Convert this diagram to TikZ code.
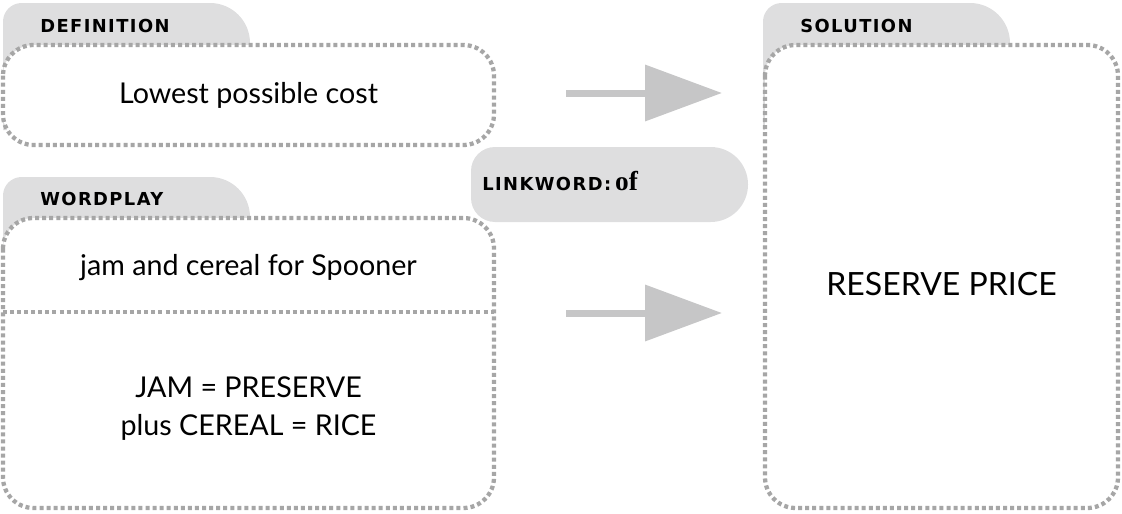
\documentclass[tikz,border=0pt]{standalone}
\usepackage{fontspec}
\setmainfont{Lato}
\newfontfamily\tabfont{DejaVu Sans Bold}[LetterSpace=8]
\newfontfamily\ofont{Liberation Serif Bold}
\usetikzlibrary{arrows.meta}

\definecolor{tabgray}{HTML}{DEDEDF}
\definecolor{dotgray}{HTML}{A6A6A6}
\definecolor{arrowgray}{HTML}{C6C6C7}

\begin{document}
\begin{tikzpicture}[
  x=0.75pt, y=-0.75pt,
  dotbox/.style={fill=white, draw=dotgray, line width=3.2pt, dash pattern=on 3pt off 2.3pt, rounded corners=23pt},
  dotline/.style={draw=dotgray, line width=3.2pt, dash pattern=on 3pt off 2.3pt},
  tablabel/.style={font=\tabfont\fontsize{13.4}{15}\selectfont, anchor=base west, inner sep=0pt},
  clue/.style={font=\fontsize{21.5}{28.5}\selectfont, align=center, inner sep=0pt, anchor=base},
  bigarrow/.style={draw=arrowgray, line width=5.25pt, -{Triangle[length=57.75pt, width=41.25pt]}}
]

  % page size, margins included
  \useasboundingbox (0,0) rectangle (1122,514);

  % Tabs behind the boxes
  \def\tab#1#2{%
    \fill[tabgray] (#1,#2+127) [rounded corners=14pt] -- (#1,#2)
      [rounded corners=30pt] -- (#1+247,#2) -- (#1+247,#2+127) [sharp corners] -- cycle;}
  \tab{3}{3}      % definition
  \tab{3}{177}    % wordplay
  \tab{763}{3}    % solution

  % Dotted boxes
  \path[dotbox] (3,45) rectangle (494,145);
  \path[dotbox] (3,218) rectangle (494,508);
  \path[dotbox] (765,45) rectangle (1118,508);

  % Split of the wordplay box
  \coordinate (wpsplitL) at (3,312);
  \coordinate (wpsplitR) at (494,312);
  \draw[dotline] (wpsplitL) -- (wpsplitR);

  % Tab labels
  \node[tablabel] (deflabel) at (40,32)  {DEFINITION};
  \node[tablabel] (wplabel)  at (40,205) {WORDPLAY};
  \node[tablabel] (sollabel) at (800,32) {SOLUTION};

  % Link word
  \fill[tabgray, rounded corners=18pt] (600,147) -- (471,147) -- (471,222) -- (600,222)
    [rounded corners=28pt] -- (748,222) -- (748,147) -- cycle;
  \node[tablabel] (linkword) at (482,190) {LINKWORD:\hspace{3pt}{\ofont\fontsize{20.5}{22}\selectfont of}};

  % Texts in the boxes
  \node[clue] (deftext) at (248.5,103) {Lowest possible cost};
  \node[clue] (wpclue)  at (248.5,275) {jam and cereal for Spooner};
  \node[clue] (wpparse) at (248.5,435) {JAM = PRESERVE\\plus CEREAL = RICE};
  \node[clue, font=\fontsize{24}{28}\selectfont] (soltext) at (941.5,295) {RESERVE PRICE};

  % Arrows to the solution
  \coordinate (a1s) at (566,93);
  \coordinate (a1e) at (722,93);
  \coordinate (a2s) at (566,313);
  \coordinate (a2e) at (722,313);
  \draw[bigarrow] (a1s) -- (a1e);
  \draw[bigarrow] (a2s) -- (a2e);

\end{tikzpicture}
\end{document}
